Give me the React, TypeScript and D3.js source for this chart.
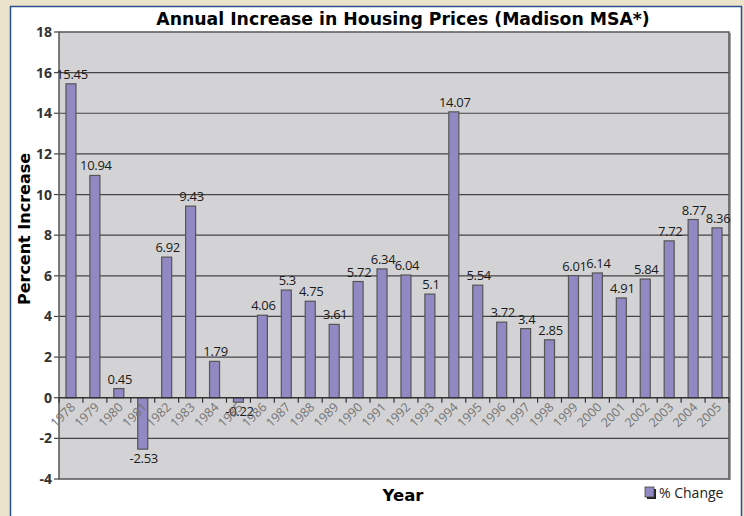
import React from "react";
import * as d3 from "d3";

const years = ["1978","1979","1980","1981","1982","1983","1984","1985","1986","1987","1988","1989","1990","1991","1992","1993","1994","1995","1996","1997","1998","1999","2000","2001","2002","2003","2004","2005"];
const changes = [15.45,10.94,0.45,-2.53,6.92,9.43,1.79,-0.22,4.06,5.3,4.75,3.61,5.72,6.34,6.04,5.1,14.07,5.54,3.72,3.4,2.85,6.01,6.14,4.91,5.84,7.72,8.77,8.36];
const yTicks = [-4,-2,0,2,4,6,8,10,12,14,16,18];
const titleText = "Annual Increase in Housing Prices (Madison MSA*)";
const yTitle = "Percent Increase";
const xTitle = "Year";
const seriesName = "% Change";

const W = 744, H = 516;
const plot = { left: 59, top: 32, right: 729, bottom: 479 };
const font = "'Open Sans', 'DejaVu Sans', sans-serif";
const boldFont = "'DejaVu Sans', 'Open Sans', sans-serif";

export default function App() {
  const x = d3.scaleBand<string>().domain(years).range([plot.left, plot.right]).paddingInner(0).paddingOuter(0);
  const y = d3.scaleLinear().domain([-4, 18]).range([plot.bottom, plot.top]);
  const bw = 10;
  const y0 = y(0);
  const bounds = d3.range(years.length + 1).map((i) => plot.left + i * x.step());
  return (
    <svg width={W} height={H} style={{ position: "absolute", left: 0, top: 0, display: "block" }}>
      <rect x={0} y={0} width={W} height={H} fill="#ECE3CC" />
      <rect x={10.5} y={6.5} width={731} height={520} fill="#FFFFFF" stroke="#2A4F8C" strokeWidth={1.5} />
      <rect x={plot.left} y={plot.top} width={plot.right - plot.left} height={plot.bottom - plot.top} fill="#D3D3D5" />
      {yTicks.map((t) => (
        <g key={t}>
          {t !== -4 && t !== 18 && t !== 0 && (
            <line x1={plot.left} x2={plot.right} y1={y(t)} y2={y(t)} stroke="#444" strokeWidth={1.2} />
          )}
          <line x1={plot.left - 5} x2={plot.left} y1={y(t)} y2={y(t)} stroke="#444" strokeWidth={1.2} />
          <text x={plot.left - 7} y={y(t)} dy="0.36em" textAnchor="end" fontFamily={font} fontWeight={700} fontSize={14} fill="#333">{t}</text>
        </g>
      ))}
      <rect x={plot.left} y={plot.top} width={plot.right - plot.left} height={plot.bottom - plot.top} fill="none" stroke="#555" strokeWidth={1.5} />
      <line x1={plot.right + 1} x2={plot.right + 1} y1={plot.top + 1} y2={plot.bottom + 1} stroke="#666" strokeWidth={1.2} />
      {changes.map((v, i) => {
        const cx = (x(years[i]) as number) + x.bandwidth() / 2;
        const top = Math.min(y(v), y0);
        const h = Math.abs(y(v) - y0);
        return (
          <g key={years[i]}>
            <rect x={cx - bw / 2} y={top} width={bw} height={h} fill="#9089C4" stroke="#555" strokeWidth={1.2} />
            <text x={cx + 1} y={v >= 0 ? y(v) - 5 : y(v) + 14} textAnchor="middle" fontFamily={font} fontWeight={500} fontSize={13} fill="#1a1a1a" letterSpacing={-0.3}>{String(v)}</text>
          </g>
        );
      })}
      <line x1={plot.left} x2={plot.right} y1={y0} y2={y0} stroke="#333" strokeWidth={1.5} />
      {bounds.map((bx, i) => (
        <line key={i} x1={bx} x2={bx} y1={y0} y2={y0 + 5} stroke="#333" strokeWidth={1.2} />
      ))}
      {years.map((yr) => {
        const cx = (x(yr) as number) + x.bandwidth() / 2;
        return (
          <text key={yr} transform={`translate(${cx + 2},${y0 + 7}) rotate(-45)`} textAnchor="end" dy="0.35em" fontFamily={font} fontSize={12.5} fill="#737373">{yr}</text>
        );
      })}
      <text x={403} y={25} textAnchor="middle" fontFamily={boldFont} fontWeight={700} fontSize={17.3} fill="#000">{titleText}</text>
      <text transform={`translate(30,229) rotate(-90)`} textAnchor="middle" fontFamily={boldFont} fontWeight={700} fontSize={16} fill="#000">{yTitle}</text>
      <text x={403} y={501} textAnchor="middle" fontFamily={boldFont} fontWeight={700} fontSize={16.5} fill="#000">{xTitle}</text>
      <rect x={647} y={489} width={9} height={10} fill="#222" />
      <rect x={645} y={487} width={9} height={10} fill="#9089C4" stroke="#444" strokeWidth={0.8} />
      <text x={659} y={498} fontFamily={font} fontWeight={500} fontSize={14} fill="#222">{seriesName}</text>
    </svg>
  );
}
